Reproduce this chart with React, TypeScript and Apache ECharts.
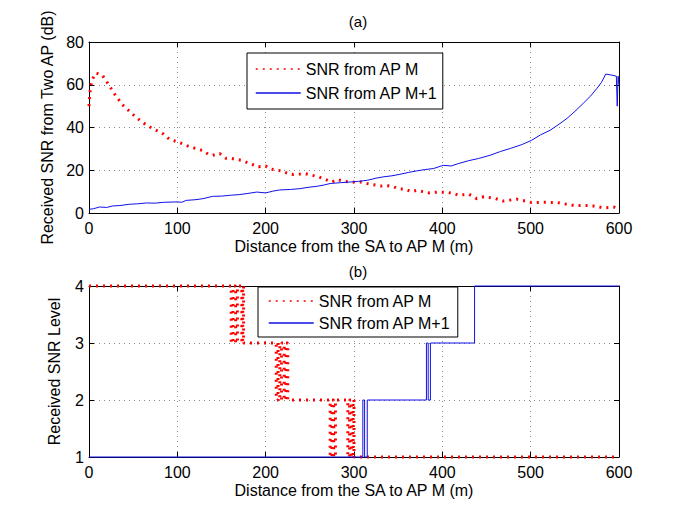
import React, { useEffect, useRef } from "react";
import * as echarts from "echarts";

const xTicksMax = 600;
const topYMax = 80;

const topRedX = [0,1,3,8,15,20,30,38,50,60,70,84,91,102,114,129,135,140,148,155,160,172,185,192,200,205,218,226,231,245,260,275,281,289,301,307,315,330,337,345,352,358,365,371,385,395,405,413,418,430,439,447,460,469,484,501,515,530,549,568,583,595,600];
const topRedY = [50,56,62,65.5,64.5,61.5,55,50.6,46,42.5,40,37,34.5,33,31,29.2,27.5,27,27.8,25.6,25.6,24.7,22.7,21.6,22,20.6,19.7,18.4,18,18.4,16.9,14.5,15.6,14.8,14.4,14.5,13.8,12.6,12.9,12.2,11.2,11.2,10,10.6,9.4,9.8,9.7,9.1,8.3,8.8,6.7,7.6,6.8,5.6,6.5,4.9,5,4.9,3.5,3.5,2.4,2.7,2];

const topBlueX = [0,5,12,20,27,35,46,55,65,75,84,100,105,110,120,129,140,150,160,170,179,190,200,208,216,228,239,248,258,265,273,285,296,305,315,325,333,343,352,362,371,380,390,401,410,418,430,441,454,466,477,490,501,511,522,532,541,550,560,568,575,580,585,592,597,598,599,600];
const topBlueY = [1.7,2,2.8,2.6,3.3,3.5,4.1,4.3,4.7,4.6,5,5.2,5,5.9,6.2,6.7,7.8,7.9,8.3,8.6,9.1,9.8,9.4,10.2,10.8,11,11.4,12,12.5,13,13.8,14.2,14.5,14.8,15.3,16.3,16.9,17.4,18.1,19,19.7,20.3,20.8,22.3,22,23.1,24.5,25.5,27,28.8,30.2,32,34,36.5,38.7,41.5,44.2,47.5,51.5,54.8,58.3,61,65,64.5,64,50,64,60];

const botRedX = [0,161,163,166,168,173,174,175,212,214,216,218,221,223,225,273,275,277,279,293,295,297,299,300,600];
const botRedY = [4,3,4,3,4,3,4,3,2,3,2,3,2,3,2,1,2,1,2,1,2,1,2,1,1];

const botBlueX = [0,310,312,315,382,384,386.5,436.5,600];
const botBlueY = [1,2,1,2,3,2,3,4,4];

const nameA = "SNR from AP M";
const nameB = "SNR from AP M+1";

const FONT = "'Liberation Sans', Arial, Helvetica, sans-serif";
const RED = "#ff0000";
const BLUE = "#1010e8";

const zip = (xs: number[], ys: number[]) => xs.map((x, i) => [x, ys[i]]);

export default function App() {
  const ref = useRef<HTMLDivElement>(null);
  useEffect(() => {
    if (!ref.current) return;
    const chart = echarts.init(ref.current, null, { renderer: "svg" });
    const gridLine = { show: true, lineStyle: { color: "#888", type: [1, 4], width: 1 } };
    const axisLine = { show: true, onZero: false, lineStyle: { color: "#000", width: 1 } };
    const tick = { show: true, inside: true, length: 5, lineStyle: { color: "#000" } };
    const label = { color: "#000", fontSize: 16, fontFamily: FONT };
    const nameStyle = { color: "#000", fontSize: 16, fontFamily: FONT };
    const mainX = (gi: number) => ({
      type: "value", gridIndex: gi, min: 0, max: xTicksMax, interval: 100,
      axisLine, axisTick: tick, splitLine: gridLine,
      axisLabel: { ...label, margin: 7 },
      name: "Distance from the SA to AP M (m)", nameLocation: "middle", nameGap: 25,
      nameTextStyle: nameStyle,
    });
    const extraX = (gi: number) => ({
      type: "value", gridIndex: gi, position: "top", min: 0, max: xTicksMax, interval: 100,
      axisLine, axisTick: tick, splitLine: { show: false }, axisLabel: { show: false },
    });
    const extraY = (gi: number, min: number, max: number, interval: number) => ({
      type: "value", gridIndex: gi, position: "right", min, max, interval,
      axisLine, axisTick: tick, splitLine: { show: false }, axisLabel: { show: false },
    });
    const dotted = { color: RED, width: 3, type: [2, 5], cap: "butt" };
    const solid = { color: BLUE, width: 1 };
    const legendBase = {
      orient: "vertical", itemWidth: 45, itemHeight: 14, borderColor: "#000", borderWidth: 1,
      backgroundColor: "#fff", textStyle: { fontSize: 16, color: "#000", fontFamily: FONT },
      itemStyle: { color: "transparent", borderColor: "transparent", borderWidth: 0 },
      lineStyle: { width: 1.5 },
      data: [nameA, nameB],
    };
    chart.setOption({
      animation: false,
      backgroundColor: "#fff",
      textStyle: { fontFamily: FONT },
      title: [
        { text: "(a)", left: 353, top: 9, textAlign: "center", textStyle: { fontSize: 15, fontWeight: "normal", color: "#000", fontFamily: FONT } },
        { text: "(b)", left: 353, top: 259, textAlign: "center", textStyle: { fontSize: 15, fontWeight: "normal", color: "#000", fontFamily: FONT } },
      ],
      grid: [
        { left: 89, top: 42, width: 530, height: 171 },
        { left: 89, top: 286, width: 530, height: 171 },
      ],
      xAxis: [mainX(0), mainX(1), extraX(0), extraX(1)],
      yAxis: [
        {
          type: "value", gridIndex: 0, min: 0, max: topYMax, interval: 20,
          axisLine, axisTick: tick, splitLine: gridLine, axisLabel: { ...label, margin: 5 },
          name: "Received SNR from Two AP (dB)", nameLocation: "middle", nameGap: 27, nameTextStyle: nameStyle,
        },
        {
          type: "value", gridIndex: 1, min: 1, max: 4, interval: 1,
          axisLine, axisTick: tick, splitLine: gridLine, axisLabel: { ...label, margin: 5 },
          name: "Received SNR Level", nameLocation: "middle", nameGap: 27, nameTextStyle: nameStyle,
        },
        extraY(0, 0, topYMax, 20),
        extraY(1, 1, 4, 1),
      ],
      legend: [
        { ...legendBase, left: 247, top: 53, padding: [8, 5, 8, 8], itemGap: 8 },
        { ...legendBase, left: 258, top: 287, padding: [6, 7, 6, 10], itemGap: 6 },
      ],
      series: [
        { name: nameA, type: "line", xAxisIndex: 0, yAxisIndex: 0, symbol: "none", clip: false, data: zip(topRedX, topRedY), lineStyle: dotted, itemStyle: { color: RED }, z: 3 },
        { name: nameB, type: "line", xAxisIndex: 0, yAxisIndex: 0, symbol: "none", clip: false, data: zip(topBlueX, topBlueY), lineStyle: solid, itemStyle: { color: BLUE }, z: 3 },
        { name: nameA, type: "line", xAxisIndex: 1, yAxisIndex: 1, symbol: "none", clip: false, step: "end", data: zip(botRedX, botRedY), lineStyle: dotted, itemStyle: { color: RED }, z: 3 },
        { name: nameB, type: "line", xAxisIndex: 1, yAxisIndex: 1, symbol: "none", clip: false, step: "end", data: zip(botBlueX, botBlueY), lineStyle: solid, itemStyle: { color: BLUE }, z: 3 },
      ],
    });
    return () => chart.dispose();
  }, []);
  return <div ref={ref} style={{ position: "fixed", left: 0, top: 0, width: 685, height: 515 }} />;
}
